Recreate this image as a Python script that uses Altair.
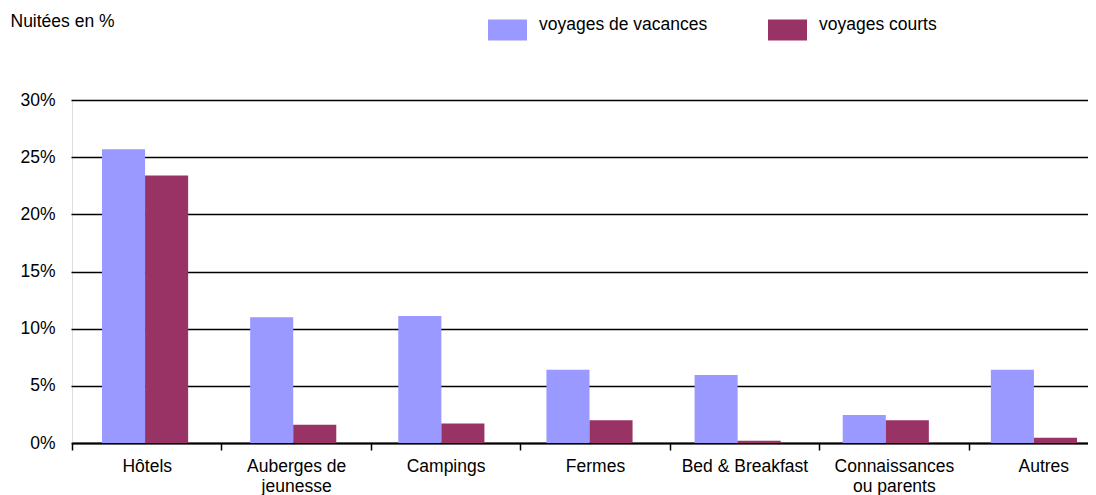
import altair as alt
import pandas as pd

categories = ["Hôtels", "Auberges de jeunesse", "Campings", "Fermes",
              "Bed & Breakfast", "Connaissances ou parents", "Autres"]
series = ["voyages de vacances", "voyages courts"]
vacances = [25.7, 11.0, 11.1, 6.4, 5.95, 2.45, 6.4]
courts = [23.4, 1.6, 1.7, 2.0, 0.2, 2.0, 0.45]
colors = ["#9999FF", "#993366"]

rows = []
for c, v in zip(categories, vacances):
    rows.append({"cat": c, "serie": series[0], "val": v})
for c, v in zip(categories, courts):
    rows.append({"cat": c, "serie": series[1], "val": v})
df = pd.DataFrame(rows)

FONT = "Liberation Sans"
FS = 17.5

label_expr = ("datum.label == 'Auberges de jeunesse' ? ['Auberges de', 'jeunesse'] : "
              "datum.label == 'Connaissances ou parents' ? ['Connaissances', 'ou parents'] : datum.label")

y_enc = alt.Y("val:Q", title="Nuitées en %",
              scale=alt.Scale(domain=[0, 30], nice=False),
              axis=alt.Axis(values=[0, 5, 10, 15, 20, 25, 30],
                            labelExpr="datum.value + '%'",
                            labelFont=FONT, labelFontSize=FS, labelColor="black",
                            labelPadding=17, ticks=False, tickSize=0, domain=False,
                            gridColor="black", gridWidth=1.6,
                            titleAngle=0, titleX=-62, titleY=-74,
                            titleAlign="left", titleBaseline="alphabetic",
                            titleFont=FONT, titleFontSize=FS, titleFontWeight="normal",
                            titleColor="black"))

bars = alt.Chart(df).mark_bar().encode(
    x=alt.X("cat:N", sort=categories, title=None,
            scale=alt.Scale(paddingInner=0, paddingOuter=0, range=[-1, 1036]),
            axis=None),
    xOffset=alt.XOffset("serie:N", sort=series,
                        scale=alt.Scale(paddingInner=0, paddingOuter=0.72)),
    y=y_enc,
    color=alt.Color("serie:N", sort=series, title=None,
                    scale=alt.Scale(domain=series, range=colors),
                    legend=alt.Legend(orient="none", legendX=416, legendY=-90,
                                      direction="horizontal", padding=0,
                                      symbolType="M-1,-0.54L1,-0.54L1,0.54L-1,0.54Z",
                                      symbolSize=1521, symbolStrokeWidth=0,
                                      symbolOpacity=1,
                                      labelFont=FONT, labelFontSize=FS,
                                      labelColor="black", labelBaseline="alphabetic",
                                      labelOffset=12, columnPadding=60,
                                      labelLimit=400)),
)

axis_layer = alt.Chart(df).mark_tick(opacity=0).encode(
    x=alt.X("cat:N", sort=categories, title=None,
            scale=alt.Scale(paddingInner=0, paddingOuter=0, range=[0, 1046]),
            axis=alt.Axis(orient="bottom", labelAngle=0, labelExpr=label_expr,
                          labelFont=FONT, labelFontSize=FS, labelColor="black",
                          labelLineHeight=20, labelPadding=7,
                          domainColor="black", domainWidth=2,
                          tickColor="black", tickWidth=1.5, tickSize=7,
                          tickBand="extent", grid=False)),
    y=alt.Y("val:Q"),
)

chart = alt.layer(bars, axis_layer).resolve_scale(x="independent").properties(
    width=1016, height=343,
    autosize=alt.AutoSizeParams(type="none"),
    padding={"left": 64, "top": 92, "right": 0, "bottom": 52},
).configure_view(stroke=None).configure(background="white")

chart.save("out.html", embed_options={"renderer": "svg", "actions": False})
